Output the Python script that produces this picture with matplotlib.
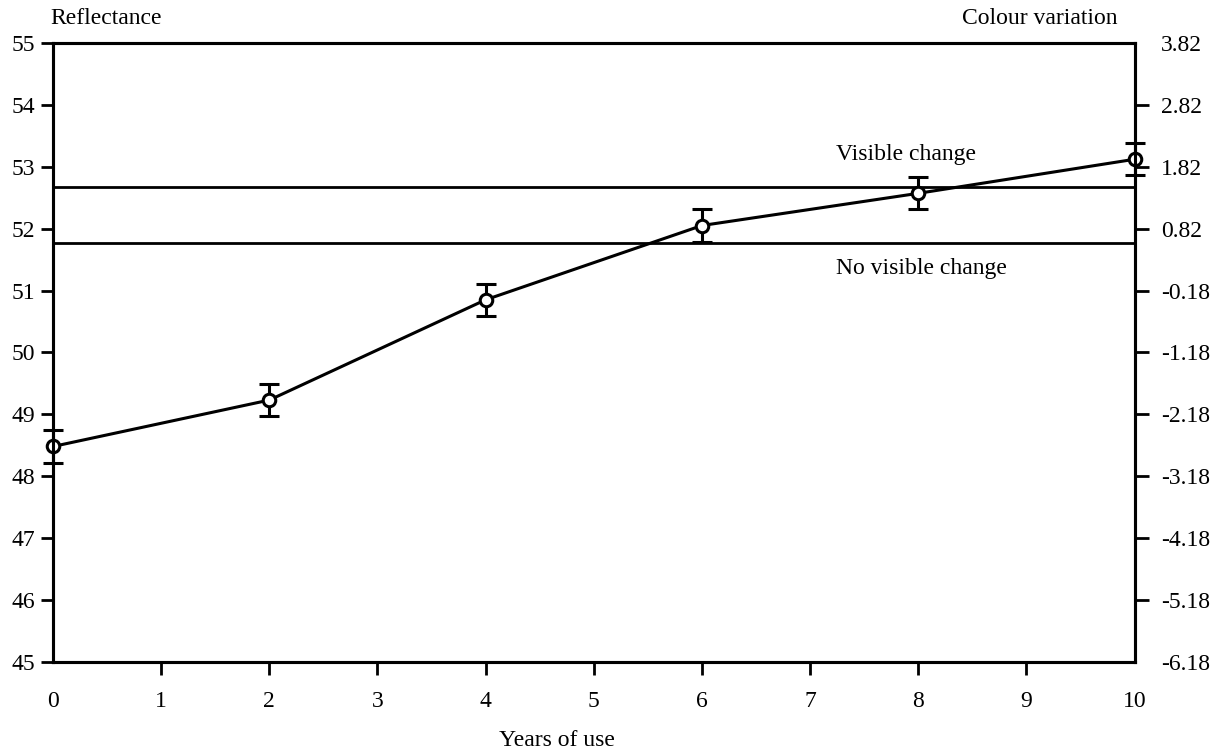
import numpy as np
import matplotlib
matplotlib.use('Agg')
import matplotlib.pyplot as plt

plt.rcParams['font.family'] = ['Liberation Serif', 'DejaVu Serif']

# data
years = [0, 2, 4, 6, 8, 10]
reflectance = [48.48, 49.23, 50.85, 52.05, 52.57, 53.12]
err = [0.26, 0.26, 0.26, 0.26, 0.26, 0.26]
visible_level = 52.68
no_visible_level = 51.77
offset = 51.18  # colour variation = reflectance - offset

fs = 17

fig = plt.figure(figsize=(12.16, 7.53), dpi=100)
fig.subplots_adjust(left=0.0436, right=0.933, top=0.943, bottom=0.121)
sub = fig.add_subplot(1, 1, 1)

sub.axhline(visible_level, color='black', linewidth=2)
sub.axhline(no_visible_level, color='black', linewidth=2)
eb = sub.errorbar(years, reflectance, yerr=err, color='black', linewidth=2.2,
                  elinewidth=2.2, capsize=7, capthick=2.2, marker='o', markersize=9,
                  markerfacecolor='white', markeredgewidth=2.2, zorder=5)
for art in eb.get_children():
    art.set_clip_on(False)
eb.lines[0].set_clip_on(False)

sub.set_xlim(0, 10)
sub.set_ylim(45, 55)
sub.set_xticks(range(0, 11))
sub.set_yticks(range(45, 56))
for s in sub.spines.values():
    s.set_linewidth(2.2)
sub.tick_params(axis='both', direction='out', length=9, width=2, labelsize=fs, pad=4)
sub.tick_params(axis='x', pad=12)
for t in (sub.xaxis.get_major_ticks()[0], sub.xaxis.get_major_ticks()[-1],
          sub.yaxis.get_major_ticks()[0], sub.yaxis.get_major_ticks()[-1]):
    t.tick1line.set_visible(False)

sub2 = sub.twinx()
sub2.set_ylim(45 - offset, 55 - offset)
rticks = np.arange(45, 56) - offset
sub2.set_yticks(rticks)
sub2.set_yticklabels(['%.2f' % v for v in rticks])
sub2.tick_params(axis='y', direction='out', length=10, width=2, labelsize=fs, pad=9)
for t in (sub2.yaxis.get_major_ticks()[0], sub2.yaxis.get_major_ticks()[-1]):
    t.tick2line.set_visible(False)
for s in sub2.spines.values():
    s.set_linewidth(2.2)

sub.text(7.89, 53.19, 'Visible change', fontsize=fs, ha='center', va='center')
sub.text(8.03, 51.36, 'No visible change', fontsize=fs, ha='center', va='center')

fig.text(50 / 1216, 1 - 18 / 753, 'Reflectance', fontsize=fs, ha='left', va='center')
fig.text(1117 / 1216, 1 - 18 / 753, 'Colour variation', fontsize=fs, ha='right', va='center')
fig.text(557 / 1216, 1 - 740 / 753, 'Years of use', fontsize=fs, ha='center', va='center')

fig.savefig('out.png', dpi=100)
